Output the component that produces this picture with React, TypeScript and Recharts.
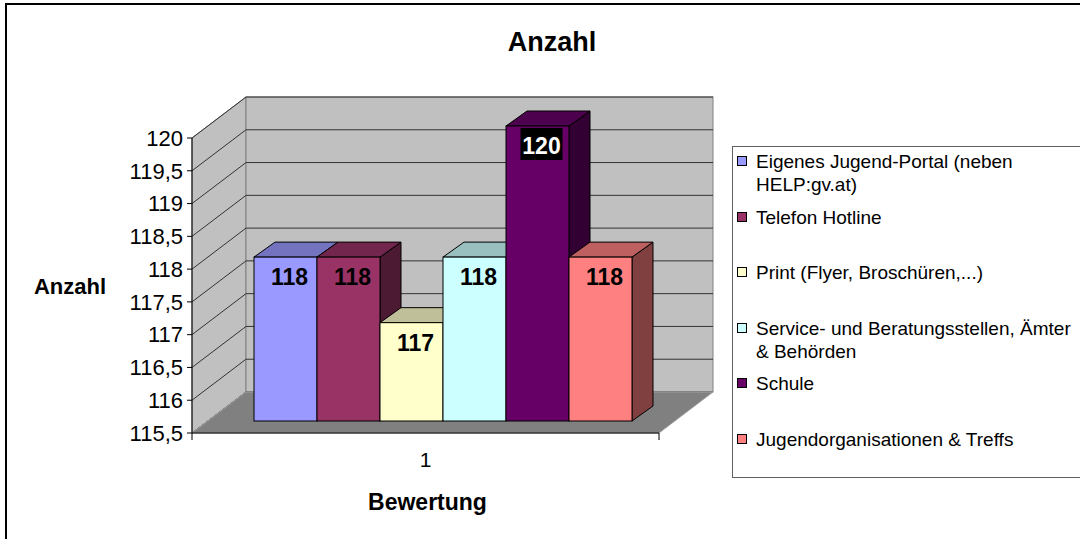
import { BarChart, Bar, XAxis, YAxis, ReferenceArea, LabelList, Legend } from "recharts";

const categories = ["1"];
const seriesNames = [
  "Eigenes Jugend-Portal (neben HELP:gv.at)",
  "Telefon Hotline",
  "Print (Flyer, Broschüren,...)",
  "Service- und Beratungsstellen, Ämter & Behörden",
  "Schule",
  "Jugendorganisationen & Treffs",
];
const seriesValues = [118, 118, 117, 118, 120, 118];
const seriesColors = ["#9999FF", "#993366", "#FFFFCC", "#CCFFFF", "#660066", "#FF8080"];
const yTicks = [115.5, 116, 116.5, 117, 117.5, 118, 118.5, 119, 119.5, 120];

const data = categories.map((cat) => {
  const row: Record<string, string | number> = { cat };
  seriesNames.forEach((_, i) => {
    row[`s${i}`] = seriesValues[i];
  });
  return row;
});

const FONT = '"Liberation Sans", Arial, sans-serif';

// 3d look: wall depth, bar plane offset and bar depth (pixels)
const WALL_DX = 54;
const WALL_DY = -41;
const BAR_OX = 16;
const BAR_OY = -12;
const BAR_DX = 21;
const BAR_DY = -15;

function shade(hex: string, f: number) {
  const n = parseInt(hex.slice(1), 16);
  const r = Math.round(((n >> 16) & 255) * f);
  const g = Math.round(((n >> 8) & 255) * f);
  const b = Math.round((n & 255) * f);
  return `rgb(${r},${g},${b})`;
}

function isDark(hex: string) {
  const n = parseInt(hex.slice(1), 16);
  const lum = 0.299 * ((n >> 16) & 255) + 0.587 * ((n >> 8) & 255) + 0.114 * (n & 255);
  return lum < 60;
}

function Walls(props: any) {
  const x = Number(props.x);
  const y = Number(props.y);
  const width = Number(props.width);
  const height = Number(props.height);
  const lo = yTicks[0];
  const hi = yTicks[yTicks.length - 1];
  const yOf = (t: number) => y + (height * (hi - t)) / (hi - lo);
  const bx = x + WALL_DX;
  const by = y + WALL_DY;
  const bottom = y + height;
  return (
    <g>
      <polygon
        points={`${x},${y} ${bx},${by} ${bx},${bottom + WALL_DY} ${x},${bottom}`}
        fill="#C0C0C0"
        stroke="#808080"
      />
      <rect x={bx} y={by} width={width} height={height} fill="#C0C0C0" stroke="#808080" />
      {yTicks.map((t) => {
        const ty = yOf(t);
        return (
          <g key={t}>
            <line x1={x} y1={ty} x2={bx} y2={ty + WALL_DY} stroke="#333" />
            <line x1={bx} y1={ty + WALL_DY} x2={bx + width} y2={ty + WALL_DY} stroke="#333" />
          </g>
        );
      })}
      <polygon
        points={`${x},${bottom} ${bx},${bottom + WALL_DY} ${bx + width},${bottom + WALL_DY} ${x + width},${bottom}`}
        fill="#808080"
        stroke="#A0A0A0"
      />
      <line x1={x} y1={bottom} x2={x + width} y2={bottom} stroke="#000" />
      <line x1={x} y1={bottom} x2={x} y2={bottom + 7} stroke="#000" />
      <line x1={x + width} y1={bottom} x2={x + width} y2={bottom + 7} stroke="#000" />
    </g>
  );
}

function Bar3D(props: any) {
  const { fill } = props;
  const w = Number(props.width);
  const h = Number(props.height);
  const fx = Number(props.x) + BAR_OX;
  const fy = Number(props.y) + BAR_OY;
  return (
    <g>
      <polygon
        points={`${fx + w},${fy} ${fx + w + BAR_DX},${fy + BAR_DY} ${fx + w + BAR_DX},${fy + h + BAR_DY} ${fx + w},${fy + h}`}
        fill={shade(fill, 0.5)}
        stroke="#000"
      />
      <polygon
        points={`${fx},${fy} ${fx + BAR_DX},${fy + BAR_DY} ${fx + w + BAR_DX},${fy + BAR_DY} ${fx + w},${fy}`}
        fill={shade(fill, 0.75)}
        stroke="#000"
      />
      <rect x={fx} y={fy} width={w} height={h} fill={fill} stroke="#000" />
    </g>
  );
}

const valueLabel = (color: string) => (p: any) => {
  const cx = Number(p.x) + BAR_OX + Number(p.width) / 2 + 4;
  const base = Number(p.y) + BAR_OY + 28;
  const text = (
    <text
      x={cx}
      y={base}
      textAnchor="middle"
      fontFamily={FONT}
      fontWeight="bold"
      fontSize={23}
      fill={isDark(color) ? "#fff" : "#000"}
    >
      {p.value}
    </text>
  );
  if (!isDark(color)) return text;
  return (
    <g>
      <rect x={cx - 21} y={base - 26} width={42} height={32} fill="#000" />
      {text}
    </g>
  );
};

function LegendBox(props: any) {
  const payload = [...(props.payload || [])].sort(
    (a: any, b: any) => seriesNames.indexOf(a.value) - seriesNames.indexOf(b.value)
  );
  return (
    <div
      style={{
        width: 400,
        height: 332,
        border: "1px solid #606060",
        background: "#fff",
        boxSizing: "border-box",
        paddingTop: 3,
        fontFamily: FONT,
        fontSize: 19,
        lineHeight: "23px",
        color: "#000",
      }}
    >
      {payload.map((e: any, i: number) => (
        <div key={i} style={{ height: 55.6, position: "relative" }}>
          <div
            style={{
              position: "absolute",
              left: 4,
              top: 6,
              width: 10,
              height: 10,
              border: "1px solid #000",
              boxSizing: "border-box",
              background: e.color,
            }}
          />
          <div style={{ position: "absolute", left: 23, top: 0, width: 326 }}>{e.value}</div>
        </div>
      ))}
    </div>
  );
}

export default function App() {
  return (
    <div
      style={{
        position: "relative",
        width: 1080,
        height: 539,
        overflow: "hidden",
        background: "#fff",
        fontFamily: FONT,
      }}
    >
      <style>{`html, body { margin: 0; padding: 0; overflow: hidden; }`}</style>
      <div
        style={{
          position: "absolute",
          left: 452,
          top: 27,
          width: 200,
          textAlign: "center",
          fontSize: 27,
          fontWeight: "bold",
        }}
      >
        Anzahl
      </div>
      <div style={{ position: "absolute", left: 0, top: 0 }}>
        <BarChart
          width={1080}
          height={539}
          data={data}
          margin={{ top: 138, right: 421, bottom: 0, left: 0 }}
          barGap={0}
          barCategoryGap={46}
        >
          <XAxis
            dataKey="cat"
            height={106}
            axisLine={false}
            tickLine={false}
            tickSize={0}
            tickMargin={0}
            tick={(p: any) => (
              <text x={p.x} y={Number(p.y) + 34} textAnchor="middle" fontFamily={FONT} fontSize={21} fill="#000">
                {p.payload.value}
              </text>
            )}
            label={(p: any) => (
              <text
                x={p.viewBox.x + p.viewBox.width / 2 + 2}
                y={p.viewBox.y + 77}
                textAnchor="middle"
                fontFamily={FONT}
                fontWeight="bold"
                fontSize={23}
                fill="#000"
              >
                Bewertung
              </text>
            )}
          />
          <YAxis
            width={192}
            domain={[115.5, 120]}
            ticks={yTicks}
            interval={0}
            axisLine={{ stroke: "#000" }}
            tickLine={{ stroke: "#000" }}
            tickSize={5}
            tickMargin={4}
            tick={{ fill: "#000", fontSize: 22, fontFamily: FONT }}
            tickFormatter={(v: number) => String(v).replace(".", ",")}
            label={(p: any) => (
              <text
                x={p.viewBox.x + 70}
                y={p.viewBox.y + p.viewBox.height / 2 + 8}
                textAnchor="middle"
                fontFamily={FONT}
                fontWeight="bold"
                fontSize={22}
                fill="#000"
              >
                Anzahl
              </text>
            )}
          />
          <ReferenceArea y1={115.5} y2={120} shape={Walls} ifOverflow="visible" />
          <Legend
            layout="vertical"
            align="center"
            verticalAlign="middle"
            wrapperStyle={{ left: 732, top: 146, width: 400 }}
            content={LegendBox}
          />
          {seriesNames.map((name, i) => (
            <Bar
              key={name}
              dataKey={`s${i}`}
              name={name}
              fill={seriesColors[i]}
              shape={Bar3D}
              isAnimationActive={false}
            >
              <LabelList dataKey={`s${i}`} content={valueLabel(seriesColors[i])} />
            </Bar>
          ))}
        </BarChart>
      </div>
      <div
        style={{
          position: "absolute",
          left: 5,
          top: 3,
          width: 1200,
          height: 600,
          border: "2px solid #000",
          pointerEvents: "none",
        }}
      />
    </div>
  );
}
